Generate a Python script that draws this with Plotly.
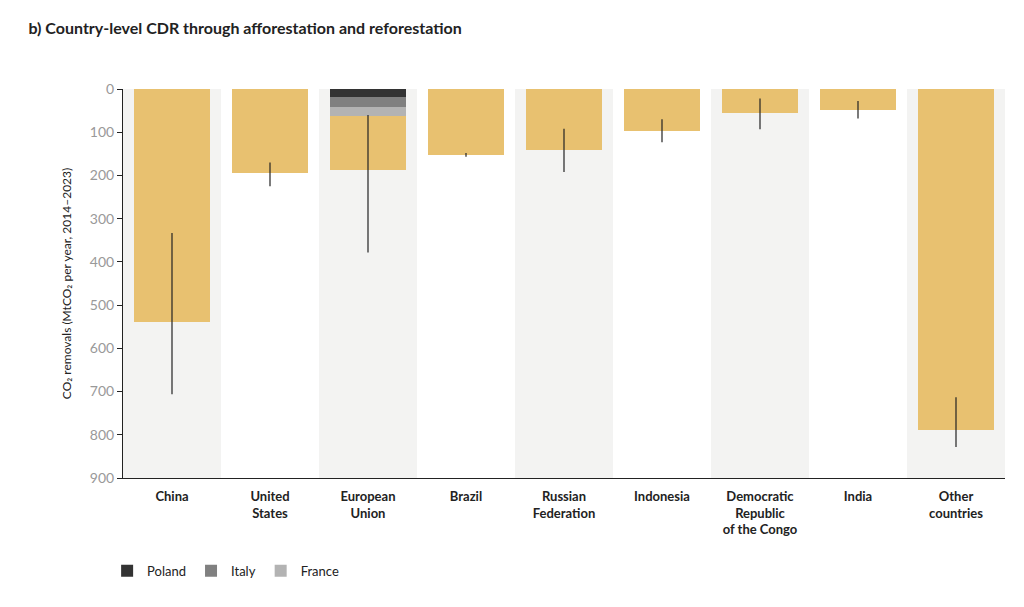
import plotly.graph_objects as go

countries = ['China', 'United<br>States', 'European<br>Union', 'Brazil', 'Russian<br>Federation',
             'Indonesia', 'Democratic<br>Republic<br>of the Congo', 'India', 'Other<br>countries']
removals = [540, 195, 188, 152, 142, 97, 55, 48, 788]
err_low = [333, 170, 60, 148, 92, 70, 22, 28, 713]
err_high = [706, 225, 378, 157, 192, 123, 93, 68, 828]
shaded = [True, False, True, False, True, False, True, False, True]

eu_parts = ['Poland', 'Italy', 'France']
eu_values = [19, 23, 21]
eu_colors = ['#333333', '#808080', '#b3b3b3']

gold = '#e8c170'
fig = go.Figure()

# alternating background columns
fig.add_trace(go.Bar(x=[c for c, s in zip(countries, shaded) if s], y=[900] * sum(shaded),
                     width=1, marker_color='#f3f3f2', marker_line_width=0,
                     showlegend=False, hoverinfo='skip'))

# gold bars (EU starts below its member stack)
eu_idx = countries.index('European<br>Union')
eu_total = sum(eu_values)
bases = [eu_total if i == eu_idx else 0 for i in range(len(countries))]
lengths = [v - b for v, b in zip(removals, bases)]
fig.add_trace(go.Bar(x=countries, y=lengths, base=bases, width=0.78,
                     marker_color=gold, marker_line_width=0, showlegend=False))

b = 0
for name, val, col in zip(eu_parts, eu_values, eu_colors):
    fig.add_trace(go.Bar(x=[countries[eu_idx]], y=[val], base=[b], width=0.78, name=name,
                         marker_color=col, marker_line_width=0))
    b += val

# uncertainty ranges
ex, ey = [], []
for c, lo, hi in zip(countries, err_low, err_high):
    ex += [c, c, None]
    ey += [lo, hi, None]
fig.add_trace(go.Scatter(x=ex, y=ey, mode='lines', line=dict(color='#222222', width=1.2),
                         showlegend=False, hoverinfo='skip'))

fig.update_layout(
    width=1024, height=607, barmode='overlay', bargap=0,
    plot_bgcolor='white', paper_bgcolor='white',
    font=dict(family='Lato', size=13, color='#222222'),
    title=dict(text='<b>b) Country-level CDR through afforestation and reforestation</b>',
               x=0.02, y=0.967, yref='container', yanchor='middle', font=dict(size=16)),
    margin=dict(l=115, r=27, t=81, b=137),
    legend=dict(orientation='h', x=-0.018, y=-0.2, xanchor='left', font=dict(size=13),
                itemwidth=30, traceorder='normal'),
    xaxis=dict(showline=True, linecolor='#222222', ticks='outside', ticklen=6,
               tickcolor='rgba(0,0,0,0)',
               categoryorder='array', categoryarray=countries,
               range=[-0.5, len(countries) - 0.5],
               tickvals=countries, ticktext=['<b>' + c + '</b>' for c in countries]),
    yaxis=dict(range=[900, 0], tickvals=list(range(0, 901, 100)), showgrid=False,
               showline=True, linecolor='#222222', ticks='outside', ticklen=5,
               tickcolor='#222222', tickfont=dict(color='#999999', size=14),
               title=dict(text='CO₂ removals (MtCO₂ per year, 2014–2023)', font=dict(size=12))),
)
fig.update_xaxes(tickfont=dict(family='Lato', size=13, color='#222222'))
fig.write_html('out.html')
